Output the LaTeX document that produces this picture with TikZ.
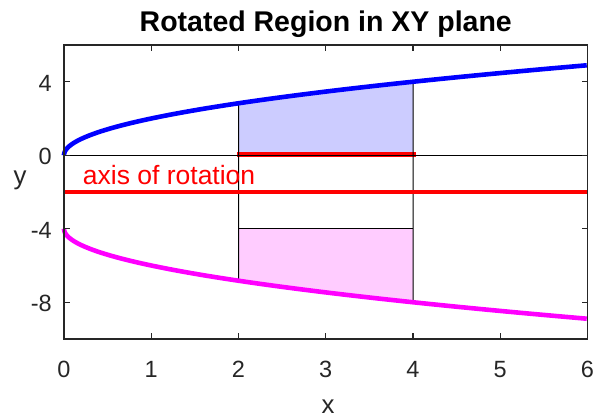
\documentclass[tikz,border=0pt]{standalone}
\usepackage{fontspec}
\setmainfont{Liberation Sans}
\definecolor{axgray}{rgb}{0.15,0.15,0.15}
\definecolor{bluefill}{rgb}{0.8,0.8,1}
\definecolor{pinkfill}{rgb}{1,0.8,1}
\definecolor{magline}{rgb}{1,0,1}
\definecolor{blueline}{rgb}{0,0,1}
\definecolor{redline}{rgb}{1,0,0}
\tikzset{
  ticklab/.style={inner sep=0pt, text=axgray, font=\fontsize{23.5}{28}\selectfont},
  axlab/.style={inner sep=0pt, text=axgray, font=\fontsize{25.8}{30}\selectfont},
  edge/.style={black, line width=1pt},
  curve/.style={line width=4.6pt},
  axbox/.style={axgray, line width=1.3pt},
}
\begin{document}
\begin{tikzpicture}[x=1pt,y=1pt]
\useasboundingbox (0,0) rectangle (597,418);
\begin{scope}[shift={(64pt,262.75pt)}, x=87.25pt, y=18.375pt]
  % shaded regions
  \fill[bluefill] (2,0) -- (4,0) -- (4,4) -- (2,{2*sqrt(2)}) -- cycle;
  \fill[pinkfill] (2,-4) -- (4,-4) -- (4,-8) -- (2,{-4-2*sqrt(2)}) -- cycle;
  % red segment on y=0
  \draw[redline, line width=5pt, shorten <=-1.3pt, shorten >=-3pt] (2,0.03) -- (4,0.03);
  % x axis line
  \draw[edge] (0,0) -- (6,0);
  % outlines
  \draw[edge] (2,{2*sqrt(2)}) -- (4,4) -- (4,{-8}) -- (2,{-4-2*sqrt(2)}) -- cycle;
  \draw[edge] (2,-4) -- (4,-4);
  % axis of rotation
  \draw[redline, line width=4.8pt] (0,-2) -- (6,-2);
  \node[anchor=base west, inner sep=0pt, text=redline, font=\fontsize{26.5}{30}\selectfont] (aor) at (18.7pt,-29.5pt) {axis of rotation};
  % curves
  \draw[blueline, curve] plot[domain=0:2.4495, samples=120, variable=\t] ({\t*\t},{2*\t});
  \draw[magline, curve] plot[domain=0:2.4495, samples=120, variable=\t] ({\t*\t},{-4-2*\t});
  % box
  \draw[axbox] (0,-10) rectangle (6,6);
  \foreach \i in {0,...,6} {
    \draw[axbox] (\i,-10) -- ++(0pt,6pt);
    \draw[axbox] (\i,6) -- ++(0pt,-6pt);
    \node[ticklab, anchor=base, yshift=-38pt] (xt\i) at (\i,-10) {\i};
  }
  \foreach \v/\n in {4/a,0/b,-4/c,-8/d} {
    \draw[axbox] (0,\v) -- ++(6pt,0pt);
    \draw[axbox] (6,\v) -- ++(-6pt,0pt);
    \node[ticklab, anchor=east, xshift=-12pt, yshift=-1.5pt] (yt\n) at (0,\v) {\v};
  }
\end{scope}
\node[axlab, anchor=base] (xlab) at (328,5) {x};
\node[axlab, anchor=base] (ylab) at (20,233.4) {y};
\node[anchor=base, inner sep=0pt, font=\bfseries\fontsize{28.5}{32}\selectfont] (title) at (325.75,386.3) {Rotated Region in XY plane};
\end{tikzpicture}
\end{document}
